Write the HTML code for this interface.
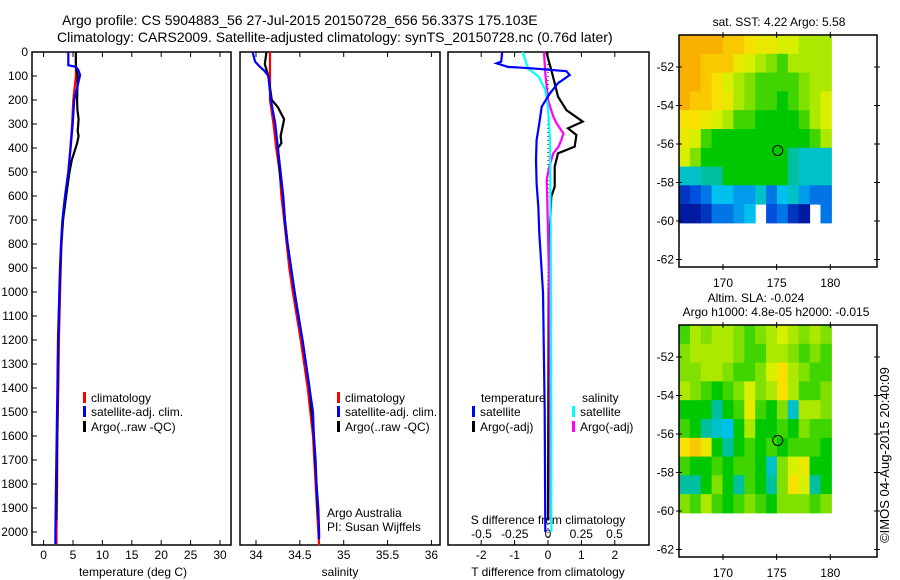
<!DOCTYPE html>
<html><head><meta charset="utf-8">
<style>
body{margin:0;background:#fff;}
svg{display:block;font-family:"Liberation Sans",sans-serif;}
text{fill:#000;}
</style></head>
<body>
<svg id="fig" width="900" height="580" viewBox="0 0 900 580">
<g>
<text x="62" y="25" font-size="14">Argo profile: CS 5904883_56 27-Jul-2015 20150728_656 56.337S 175.103E</text>
<text x="57" y="42" font-size="14">Climatology: CARS2009. Satellite-adjusted climatology: synTS_20150728.nc (0.76d later)</text>
</g>
<g id="p1"></g>
<g id="p2"></g>
<g id="p3"></g>
<g id="m1"></g>
<g id="m2"></g>
<text transform="translate(889,455) rotate(-90)" text-anchor="middle" font-size="13">©IMOS 04-Aug-2015 20:40:09</text>
</svg>
<script>
// ---------- data ----------
const depthTicks = [0,100,200,300,400,500,600,700,800,900,1000,1100,1200,1300,1400,1500,1600,1700,1800,1900,2000];
const tempTicks = [0,5,10,15,20,25,30];
const salTicks = [34,34.5,35,35.5,36];
const tdiffTicks = [-2,-1,0,1,2];
const sdiffTicks = [-0.5,-0.25,0,0.25,0.5];

const tSatDepth = [0,55,62,75,96,150,200,300,400,500,600,700,800,900,1000,1200,1400,1600,1800,2000,2050];
const tSatVal   = [4.2,4.2,5.5,5.9,6.2,5.7,5.2,4.95,4.6,4.2,3.64,3.2,2.96,2.79,2.67,2.45,2.34,2.22,2.11,2.0,2.0];
const tClimDepth = [0,100,200,300,400,500,600,700,800,900,1000,1200,1400,1600,1800,2000,2050];
const tClimVal   = [5.5,5.5,5.05,4.85,4.55,4.2,3.7,3.3,3.05,2.9,2.8,2.6,2.5,2.35,2.3,2.2,2.2];
const tArgoDepth = [0,60,100,200,240,280,330,350,380,400,450,500,600,700,800,1000,1200,1400,1600,1800,1950];
const tArgoVal   = [5.5,5.5,5.8,5.7,5.75,5.95,5.8,5.95,5.7,5.45,4.8,4.4,3.85,3.3,3.0,2.7,2.5,2.4,2.3,2.2,2.15];

const sSatDepth = [0,40,60,80,100,200,300,400,500,600,700,800,900,1000,1100,1200,1300,1400,1500,1600,1700,1800,1900,2000,2030];
const sSatVal   = [33.96,33.99,34.04,34.1,34.14,34.17,34.22,34.25,34.28,34.31,34.33,34.36,34.4,34.44,34.48,34.53,34.57,34.61,34.65,34.66,34.68,34.69,34.71,34.72,34.72];
const sClimDepth = [0,130,200,300,400,500,600,700,800,900,1000,1200,1400,1600,1800,2000,2055];
const sClimVal   = [34.16,34.16,34.16,34.2,34.23,34.27,34.29,34.32,34.35,34.38,34.42,34.51,34.59,34.65,34.68,34.71,34.72];
const sArgoDepth = [0,50,100,200,230,280,300,350,380,400,500,600,700,800,1000,1200,1400,1600,1800,1950];
const sArgoVal   = [34.12,34.1,34.14,34.18,34.25,34.32,34.31,34.28,34.29,34.25,34.27,34.31,34.33,34.36,34.44,34.53,34.61,34.66,34.69,34.71];

const dTSatDepth = [0,40,47,62,68,80,96,130,172,228,297,367,450,547,644,755,1000,1500,2000];
const dTSatVal   = [-1.37,-1.4,-1.54,-1.2,-0.5,0.55,0.65,0.3,0.06,-0.19,-0.26,-0.34,-0.36,-0.34,-0.29,-0.26,-0.15,-0.1,-0.08];
const dTArgoDepth = [0,75,130,186,242,290,318,346,394,422,478,561,603,755,1000,1950];
const dTArgoVal   = [-0.05,0.1,0.2,0.3,0.55,1.04,0.6,0.85,0.8,0.3,0.2,0.2,0.1,0.05,0.02,0.0];
const dSSatDepth = [0,68,103,158,228,367,755,1500,2000];
const dSSatVal   = [-0.19,-0.15,-0.07,-0.02,0.0,0.015,0.02,0.025,0.025];
const dSArgoDepth = [0,89,200,269,297,339,367,394,422,478,533,617,755,1000,1950];
const dSArgoVal   = [-0.03,-0.02,0.0,0.04,0.065,0.116,0.1,0.08,0.04,0.01,-0.01,-0.005,0.0,0.01,0.02];

// SST map values (0..1 on colour scale), rows north to south, columns lon 166..179
const sstGrid = [
 [0.85,0.85,0.85,0.85,0.8,0.8,0.75,0.7,0.7,0.65,0.65,0.6,0.6,0.6],
 [0.85,0.85,0.8,0.8,0.8,0.7,0.65,0.6,0.55,0.5,0.6,0.6,0.6,0.6],
 [0.85,0.85,0.8,0.75,0.65,0.6,0.55,0.5,0.5,0.5,0.5,0.55,0.6,0.6],
 [0.85,0.8,0.8,0.75,0.7,0.6,0.55,0.5,0.5,0.45,0.5,0.55,0.6,0.65],
 [0.75,0.75,0.7,0.65,0.6,0.5,0.5,0.45,0.45,0.45,0.45,0.5,0.6,0.65],
 [0.7,0.65,0.5,0.45,0.45,0.45,0.45,0.45,0.45,0.45,0.45,0.45,0.5,0.6],
 [0.65,0.55,0.45,0.45,0.45,0.45,0.45,0.45,0.45,0.45,0.4,0.35,0.35,0.35],
 [0.35,0.35,0.4,0.4,0.45,0.45,0.45,0.45,0.45,0.45,0.4,0.35,0.35,0.35],
 [0.1,0.15,0.2,0.3,0.3,0.25,0.25,0.35,0.2,0.3,0.35,0.25,0.2,0.2],
 [0.05,0.05,0.1,0.2,0.2,0.25,0.3,null,0.15,0.2,0.1,0.05,null,0.2]
];
const slaGrid = [
 [0.5,0.6,0.55,0.6,0.6,0.55,0.5,0.55,0.6,0.65,0.6,0.55,0.6,0.55],
 [0.55,0.6,0.6,0.6,0.6,0.55,0.5,0.5,0.6,0.6,0.55,0.5,0.55,0.5],
 [0.55,0.55,0.6,0.6,0.55,0.5,0.5,0.55,0.65,0.75,0.6,0.55,0.5,0.5],
 [0.6,0.55,0.5,0.45,0.5,0.55,0.65,0.55,0.6,0.75,0.6,0.5,0.5,0.55],
 [0.45,0.45,0.45,0.4,0.45,0.5,0.7,0.5,0.45,0.55,0.35,0.6,0.6,0.55],
 [0.5,0.45,0.4,0.35,0.3,0.45,0.6,0.45,0.45,0.5,0.45,0.55,0.5,0.5],
 [0.75,0.8,0.7,0.45,0.4,0.45,0.5,0.45,0.5,0.45,0.5,0.5,0.5,0.45],
 [0.5,0.45,0.45,0.5,0.45,0.5,0.5,0.45,0.35,0.55,0.65,0.7,0.45,0.45],
 [0.4,0.4,0.45,0.55,0.45,0.4,0.5,0.45,0.4,0.55,0.75,0.65,0.4,0.45],
 [0.55,0.5,0.6,0.5,0.45,0.5,0.55,0.5,0.45,0.55,0.55,0.55,0.5,0.55]
];
const latTicks = [-52,-54,-56,-58,-60,-62];
const lonTicks = [170,175,180];
const argoLon = 175.103, argoLat = -56.337;

// ---------- helpers ----------
const NS='http://www.w3.org/2000/svg';
function mk(parent,tag,attrs){const e=document.createElementNS(NS,tag);for(const k in attrs)e.setAttribute(k,attrs[k]);parent.appendChild(e);return e;}
function txt(parent,x,y,s,size,anchor){const t=mk(parent,'text',{x:x,y:y,'font-size':size||12,'text-anchor':anchor||'middle'});t.textContent=s;return t;}
const TOP=52, BOT=545;
const yD = d => TOP + d*0.24;

function frame(g,x0,x1){const r=mk(g,'rect',{x:x0,y:TOP,width:x1-x0,height:BOT-TOP,fill:'none',stroke:'#000','stroke-width':1.5});
 }
function xTicks(g,vals,fx,labY){vals.forEach(v=>{const x=fx(v);
 mk(g,'line',{x1:x,x2:x,y1:TOP,y2:TOP+5,stroke:'#000'});mk(g,'line',{x1:x,x2:x,y1:BOT,y2:BOT-5,stroke:'#000'});
 if(labY){const t=txt(g,x,labY,String(v),12);}});}
function line(g,ds,vs,fx,color,name,w){const pts=ds.map((d,i)=>fx(vs[i]).toFixed(1)+','+yD(d).toFixed(1)).join(' ');
 const p=mk(g,'polyline',{points:pts,fill:'none',stroke:color,'stroke-width':w||2.2,'stroke-linejoin':'miter'});
 }
function legendItem(g,x,y,color,label){mk(g,'rect',{x:x,y:y-10,width:3,height:11,fill:color});
 const t=txt(g,x+8,y,label,12,'start');}

// ---------- panel 1: temperature ----------
const g1=document.getElementById('p1');
const fT = v => 43.6 + v*5.88;
frame(g1,32,231);
depthTicks.forEach(d=>{const y=yD(d);mk(g1,'line',{x1:32,x2:37,y1:y,y2:y,stroke:'#000'});
 const t=txt(g1,28,y+4,String(d),12,'end');});
xTicks(g1,tempTicks,fT,559);
const xt1=txt(g1,133,576,'temperature (deg C)',12);
line(g1,tClimDepth,tClimVal,fT,'#ff0000','temp-climatology-line');
line(g1,tArgoDepth,tArgoVal,fT,'#000000','temp-argo-line');
line(g1,tSatDepth,tSatVal,fT,'#0000ff','temp-satellite-line');
legendItem(g1,83,402,'#ff0000','climatology');
legendItem(g1,83,416,'#0000ff','satellite-adj. clim.');
legendItem(g1,83,431,'#000000','Argo(..raw -QC)');

// ---------- panel 2: salinity ----------
const g2=document.getElementById('p2');
const fS = v => 256 + (v-34)*87.7;
frame(g2,240,440);
xTicks(g2,salTicks,fS,559);
const xt2=txt(g2,340,576,'salinity',12);
line(g2,sClimDepth,sClimVal,fS,'#ff0000','sal-climatology-line');
line(g2,sArgoDepth,sArgoVal,fS,'#000000','sal-argo-line');
line(g2,sSatDepth,sSatVal,fS,'#0000ff','sal-satellite-line');
legendItem(g2,337,402,'#ff0000','climatology');
legendItem(g2,337,416,'#0000ff','satellite-adj. clim.');
legendItem(g2,337,431,'#000000','Argo(..raw -QC)');
const aa=txt(g2,327,517,'Argo Australia',12,'start');
const pi=txt(g2,327,531,'PI: Susan Wijffels',12,'start');

// ---------- panel 3: differences ----------
const g3=document.getElementById('p3');
const fDT = v => 548 + v*33.4;
const fDS = v => 548 + v*133;
frame(g3,448,649);
xTicks(g3,tdiffTicks,fDT,559);
sdiffTicks.forEach(v=>{const t=txt(g3,fDS(v),538,String(v),12);});
const st=txt(g3,548,524,'S difference from climatology',12);
const xt3=txt(g3,548,576,'T difference from climatology',12);
const zl=mk(g3,'line',{x1:fDT(0),x2:fDT(0),y1:TOP,y2:BOT,stroke:'#000','stroke-dasharray':'1,3'});

line(g3,dTArgoDepth,dTArgoVal,fDT,'#000000','tdiff-argo-line');
line(g3,dSArgoDepth,dSArgoVal,fDS,'#ff00ff','sdiff-argo-line');
line(g3,dSSatDepth,dSSatVal,fDS,'#00ffff','sdiff-satellite-line');
line(g3,dTSatDepth,dTSatVal,fDT,'#0000ff','tdiff-satellite-line');
const lt=txt(g3,481,402,'temperature',12,'start');
const ls=txt(g3,582,402,'salinity',12,'start');
legendItem(g3,472,416,'#0000ff','satellite');
legendItem(g3,472,431,'#000000','Argo(-adj)');
legendItem(g3,572,416,'#00ffff','satellite');
legendItem(g3,572,431,'#ff00ff','Argo(-adj)');

// ---------- maps ----------
const stops=[[0,[0,0,128]],[0.15,[0,80,224]],[0.3,[0,192,240]],[0.4,[0,192,160]],[0.45,[0,200,0]],[0.55,[128,224,0]],[0.65,[216,240,0]],[0.75,[248,224,0]],[0.85,[248,176,0]],[1,[240,120,0]]];
function col(v){for(let i=1;i<stops.length;i++){if(v<=stops[i][0]){const a=stops[i-1],b=stops[i],t=(v-a[0])/(b[0]-a[0]);
 const c=a[1].map((x,k)=>Math.round(x+(b[1][k]-x)*t));return 'rgb('+c.join(',')+')';}}return 'rgb(240,120,0)';}
function drawMap(id,grid,top,titles){
 const g=document.getElementById(id);
 const X0=679,X1=877,Y0=top,Y1=top+232;
 const fLon = lon => 679 + (lon-165.9)*10.73;
 const fLat = lat => top + 32 + (-52-lat)*19.25;
 const latTop=-50.34, latBot=-60.1, lonL=165.9, lonR=180.1;
 const nr=grid.length, nc=grid[0].length;
 const dlat=(latTop-latBot)/nr, dlon=(lonR-lonL)/nc;
 grid.forEach((row,r)=>row.forEach((v,c)=>{if(v===null)return;
  const x=fLon(lonL+c*dlon), y=fLat(latTop-r*dlat);
  const cell=mk(g,'rect',{x:x.toFixed(1),y:y.toFixed(1),width:(fLon(lonL+(c+1)*dlon)-x+0.5).toFixed(1),height:(fLat(latTop-(r+1)*dlat)-y+0.5).toFixed(1),fill:col(v)});
  }));
 const fr=mk(g,'rect',{x:X0,y:Y0,width:X1-X0,height:Y1-Y0,fill:'none',stroke:'#000','stroke-width':1.5});
 
 latTicks.forEach(l=>{const y=fLat(l);mk(g,'line',{x1:X0-3,x2:X0+3,y1:y,y2:y,stroke:'#000'});mk(g,'line',{x1:X1-3,x2:X1+3,y1:y,y2:y,stroke:'#000'});
  const t=txt(g,674,y+4,String(l),12,'end');});
 lonTicks.forEach(l=>{const x=fLon(l);mk(g,'line',{x1:x,x2:x,y1:Y0-3,y2:Y0+3,stroke:'#000'});mk(g,'line',{x1:x,x2:x,y1:Y1-3,y2:Y1+3,stroke:'#000'});
  const t=txt(g,x,Y1+20,String(l),12);});
 const c=mk(g,'circle',{cx:fLon(argoLon),cy:fLat(argoLat),r:5,fill:'none',stroke:'#000','stroke-width':1});
 
 titles.forEach(tt=>{const t=txt(g,tt[0],tt[1],tt[2],12);});
}
drawMap('m1',sstGrid,35,[[779,26,'sat. SST: 4.22 Argo: 5.58']]);
drawMap('m2',slaGrid,325,[[756,302,'Altim. SLA: -0.024'],[776,316,'Argo h1000: 4.8e-05 h2000: -0.015']]);
</script>
</body></html>
